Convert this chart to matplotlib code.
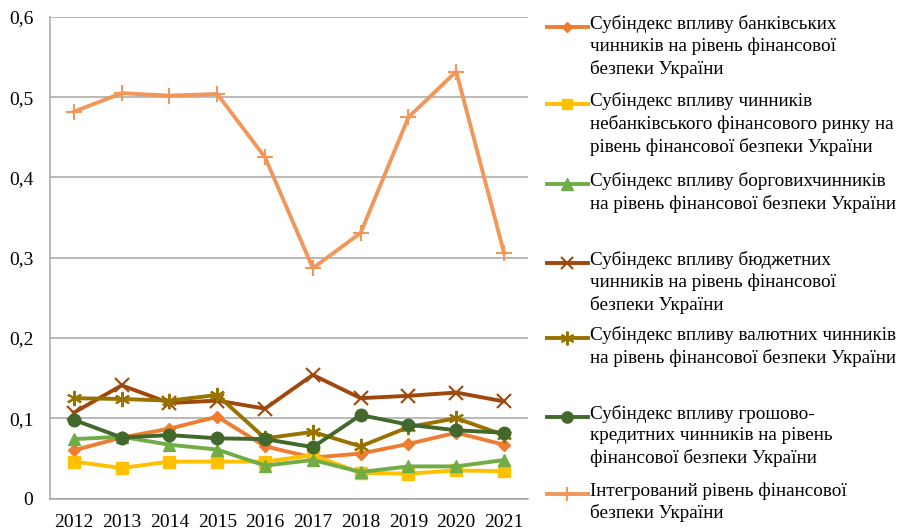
import matplotlib
matplotlib.use("Agg")
import matplotlib.pyplot as plt
from matplotlib.lines import Line2D
from matplotlib.ticker import FuncFormatter

plt.rcParams['font.family'] = ['Liberation Serif', 'DejaVu Serif']

years = [2012, 2013, 2014, 2015, 2016, 2017, 2018, 2019, 2020, 2021]

bank = [0.060, 0.076, 0.087, 0.102, 0.065, 0.051, 0.056, 0.068, 0.082, 0.067]
nonbank = [0.046, 0.038, 0.046, 0.046, 0.046, 0.054, 0.032, 0.031, 0.035, 0.034]
debt = [0.074, 0.077, 0.067, 0.061, 0.041, 0.048, 0.033, 0.040, 0.040, 0.048]
budget = [0.107, 0.141, 0.119, 0.122, 0.112, 0.154, 0.125, 0.128, 0.132, 0.121]
currency = [0.125, 0.124, 0.122, 0.129, 0.075, 0.083, 0.065, 0.089, 0.100, 0.079]
monetary = [0.098, 0.076, 0.079, 0.075, 0.074, 0.064, 0.104, 0.092, 0.085, 0.082]
integrated = [0.482, 0.505, 0.502, 0.504, 0.425, 0.287, 0.331, 0.475, 0.532, 0.306]

labels = [
    "Субіндекс впливу банківських\nчинників на рівень фінансової\nбезпеки України",
    "Субіндекс впливу чинників\nнебанківського фінансового ринку на\nрівень фінансової безпеки України",
    "Субіндекс впливу борговихчинників\nна рівень фінансової безпеки України",
    "Субіндекс впливу бюджетних\nчинників на рівень фінансової\nбезпеки України",
    "Субіндекс впливу валютних чинників\nна рівень фінансової безпеки України",
    "Субіндекс впливу грошово-\nкредитних чинників на рівень\nфінансової безпеки України",
    "Інтегрований рівень фінансової\nбезпеки України",
]

# style per series: (values, colour, marker, marker size)
series = [
    (bank, "#ED7D31", "D", 6),
    (nonbank, "#FFC000", "s", 8),
    (debt, "#70AD47", "^", 9),
    (budget, "#9E480E", "x", 10),
    (currency, "#997300", (6, 2, 0), 11),
    (monetary, "#43682B", "o", 9),
    (integrated, "#F1975A", "+", 11),
]

fig = plt.figure(figsize=(9.04, 5.30), dpi=100)
ax = fig.add_axes([0.0553, 0.0594, 0.5287, 0.9086])

x = list(range(len(years)))
for vals, col, mk, ms in series:
    mew = 1.5 if mk in ("x", "+", (6, 2, 0)) else 1
    ax.plot(x, vals, color=col, lw=2.8, marker=mk, ms=ms,
            markeredgewidth=mew, markeredgecolor=col, markerfacecolor=col,
            zorder=3)

ax.set_xlim(-0.5, len(years) - 0.5)
ax.set_ylim(0, 0.6)
ax.set_yticks([0, 0.1, 0.2, 0.3, 0.4, 0.5, 0.6])
ax.yaxis.set_major_formatter(FuncFormatter(
    lambda v, p: "0" if v == 0 else f"{v:.1f}".replace(".", ",")))
ax.set_xticks(x)
ax.set_xticklabels([str(y) for y in years])
ax.grid(axis="y", color="#A6A6A6", lw=1.1)
ax.set_axisbelow(True)
for s in ("top", "right"):
    ax.spines[s].set_visible(False)
for s in ("left", "bottom"):
    ax.spines[s].set_color("#A6A6A6")
    ax.spines[s].set_linewidth(1.1)
ax.tick_params(length=0, labelsize=14, colors="black")
ax.tick_params(axis="y", pad=12)
ax.tick_params(axis="x", pad=11)

# legend drawn by hand: each entry sits in a fixed slot, marker on the first line
W, H = 904, 530
slot_y = [27, 104, 184, 263, 338, 417, 494]
for (vals, col, mk, ms), lab, yp in zip(series, labels, slot_y):
    yf = 1 - yp / H
    fig.add_artist(Line2D([547 / W, 588 / W], [yf, yf], color=col, lw=2.8,
                          transform=fig.transFigure))
    mew = 1.5 if mk in ("x", "+", (6, 2, 0)) else 1
    fig.add_artist(Line2D([567 / W], [yf], color=col, marker=mk, ms=ms * 0.9,
                          markeredgewidth=mew, markeredgecolor=col,
                          markerfacecolor=col, transform=fig.transFigure))
    fig.text(590 / W, 1 - (yp - 12) / H, lab, fontsize=13.8, va="top",
             ha="left", linespacing=1.34, color="black")

fig.savefig("out.png", dpi=100)
